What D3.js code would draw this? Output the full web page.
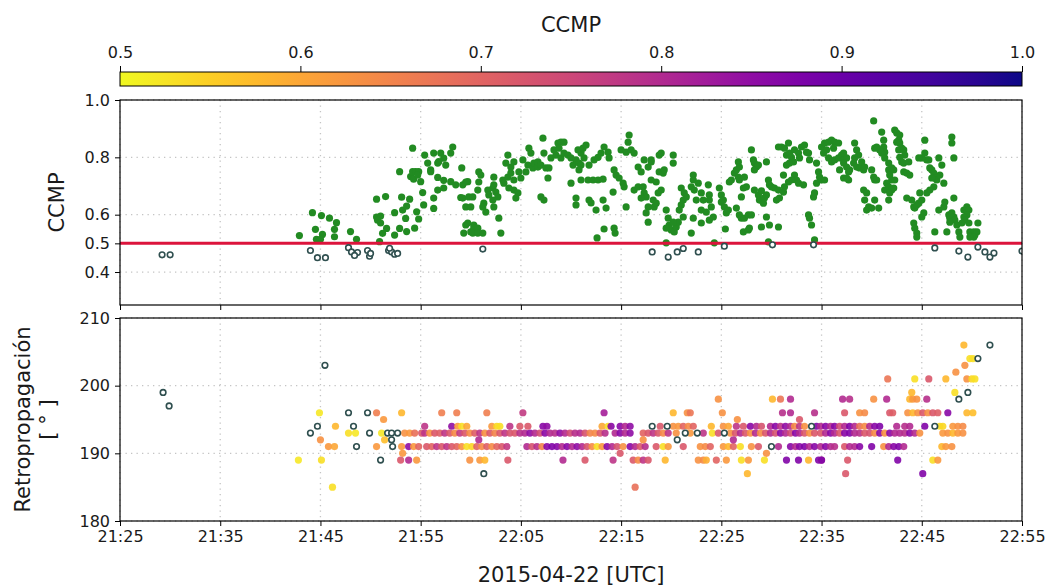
<!DOCTYPE html>
<html>
<head>
<meta charset="utf-8">
<script src="https://cdn.jsdelivr.net/npm/d3@7"></script>
<style>
  body { margin: 0; background: #fff; }
  svg { display: block; }
  text { font-family: "DejaVu Sans", sans-serif; fill: #1a1a1a; }
</style>
</head>
<body>
<svg id="chart" width="1048" height="586"></svg>
<script>
// Detection times are given in minutes after 21:00 UTC on 2015-04-22.

// Upper panel: cross-correlation maximum (CCMP) per detection [minute, ccmp]
const ccmpSeries = [
  [29.2,0.46],[30.0,0.46],
  [44.0,0.475],[44.7,0.45],[45.5,0.45],[47.8,0.485],[48.1,0.47],[48.7,0.468],[48.4,0.458],
  [49.7,0.475],[49.9,0.455],[50.0,0.465],[51.8,0.475],[52.1,0.47],[52.4,0.462],[52.7,0.465],[51.9,0.483],
  [61.2,0.48],[78.1,0.47],[79.7,0.452],[80.6,0.47],[81.2,0.482],[82.7,0.47],
  [85.3,0.49],[90.1,0.495],[94.2,0.495],
  [106.3,0.484],[108.7,0.473],[109.6,0.452],[110.6,0.487],[111.3,0.47],[111.8,0.452],[112.2,0.466],[115.0,0.473],
  [42.9,0.527],[44.2,0.607],[45.1,0.597],[45.9,0.588],[46.6,0.572],[44.5,0.549],[45.2,0.531],[44.6,0.514],
  [45.0,0.514],[46.4,0.549],[46.4,0.523],[48.0,0.541],[48.6,0.514],[50.6,0.654],[51.5,0.663],[50.6,0.592],
  [51.0,0.595],[50.7,0.581],[51.0,0.571],[51.6,0.552],[51.2,0.535],[50.9,0.506],[52.4,0.607],[52.4,0.529],
  [52.9,0.552],[53.1,0.661],[53.2,0.616],[53.5,0.587],[53.6,0.541],[53.9,0.654],[53.6,0.63],[52.9,0.75],
  [54.2,0.832],[54.0,0.733],[54.2,0.75],[54.5,0.75],[54.8,0.75],[54.3,0.724],[54.7,0.738],[55.0,0.715],
  [54.6,0.61],[54.8,0.585],[54.4,0.553],[55.2,0.677],[55.3,0.634],[55.4,0.808],
  [55.7,0.78],[56.3,0.815],[56.7,0.78],[57.0,0.815],[57.3,0.797],[58.0,0.815],[58.2,0.836],
  [56.0,0.756],[56.8,0.785],[57.5,0.773],[56.0,0.75],[56.7,0.73],[57.3,0.72],[58.0,0.715],[58.5,0.704],
  [59.2,0.704],[59.7,0.715],[56.3,0.658],[56.7,0.686],[57.3,0.693],[56.3,0.622],[59.0,0.66],[59.2,0.658],
  [59.5,0.627],[59.5,0.564],[59.3,0.536],
  [59.1,0.763],[59.5,0.714],[59.8,0.662],[60.0,0.627],[59.7,0.571],[60.0,0.54],[60.3,0.564],[60.3,0.553],
  [60.5,0.54],[60.7,0.553],[60.2,0.536],[60.7,0.536],[61.2,0.536],[60.8,0.749],[61.0,0.738],[60.8,0.714],
  [60.7,0.686],[60.2,0.662],[61.3,0.64],[61.5,0.609],[61.2,0.627],[61.7,0.686],[61.8,0.669],[62.2,0.693],
  [62.3,0.704],[62.5,0.679],[62.7,0.662],[62.2,0.651],[62.3,0.627],[62.8,0.588],[63.0,0.536],[62.3,0.731],
  [63.2,0.721],[63.3,0.71],[63.7,0.731],[64.0,0.745],[63.8,0.693],[64.3,0.721],[64.8,0.749],[65.0,0.728],
  [64.3,0.686],[64.7,0.676],[64.5,0.658],[63.7,0.808],[63.5,0.78],[64.0,0.766],[64.3,0.784],[65.2,0.791],
  [65.5,0.749],[65.7,0.773],[66.2,0.763],[65.8,0.832],[66.0,0.815],[66.3,0.78],[66.7,0.766],[66.7,0.784],
  [67.0,0.773],[67.2,0.867],[67.3,0.815],[67.5,0.763],[67.7,0.728],[67.8,0.763],[67.0,0.662],[67.3,0.651],
  [68.0,0.798],[68.3,0.826],[68.7,0.85],[69.0,0.853],[69.3,0.853],[68.8,0.832],[68.5,0.808],[69.0,0.798],
  [69.3,0.815],[69.7,0.808],[70.0,0.798],[70.2,0.773],[70.5,0.791],[70.8,0.78],[71.0,0.815],[70.7,0.826],
  [71.2,0.832],[71.5,0.843],[71.3,0.798],[71.0,0.773],[70.8,0.756],[70.0,0.71],[70.5,0.658],[70.5,0.634],
  [71.8,0.651],[72.0,0.641],[71.0,0.721],[71.7,0.721],[72.2,0.721],[72.7,0.721],[73.2,0.724],
  [71.8,0.773],[72.3,0.791],[72.7,0.80],[73.0,0.815],[73.3,0.836],[73.7,0.818],[73.8,0.798],
  [72.5,0.616],[73.2,0.651],[73.5,0.623],[72.6,0.519],[73.3,0.55],[74.3,0.553],[74.4,0.536],[74.2,0.679],
  [74.3,0.756],[74.5,0.738],[74.8,0.728],[75.2,0.71],[75.3,0.697],[75.0,0.826],[75.5,0.818],[75.7,0.853],
  [75.8,0.878],[76.0,0.826],[76.3,0.815],[76.7,0.766],[77.0,0.749],[77.3,0.791],[78.0,0.791],[77.7,0.766],
  [75.5,0.627],[76.3,0.686],[76.7,0.697],[77.2,0.697],[77.3,0.676],[77.5,0.662],[77.0,0.658],
  [78.2,0.651],[78.3,0.627],[77.7,0.627],[77.5,0.606],[77.7,0.574],[78.0,0.721],[78.5,0.714],[78.8,0.808],
  [78.0,0.784],[78.7,0.676],[78.5,0.64],[79.0,0.815],[78.8,0.749],[79.2,0.745],[79.3,0.756],[79.0,0.686],
  [79.5,0.616],[79.7,0.588],[79.8,0.564],[80.0,0.547],[79.5,0.553],[80.3,0.54],[80.5,0.557],[80.7,0.574],
  [80.2,0.574],[80.2,0.808],[80.2,0.78],
  [81.0,0.693],[81.2,0.651],[81.3,0.676],[81.5,0.662],[81.0,0.634],[81.2,0.592],[80.8,0.616],[82.0,0.697],
  [82.2,0.738],[82.2,0.721],[82.3,0.686],[82.5,0.651],[82.7,0.71],[83.0,0.676],[83.2,0.651],[83.0,0.616],
  [83.7,0.704],[83.8,0.669],[83.8,0.651],[84.0,0.627],[84.2,0.592],[83.8,0.581],[83.5,0.609],[83.0,0.571],
  [82.2,0.588],[82.0,0.536],[84.3,0.502],[79.5,0.502],
  [84.8,0.693],[85.0,0.669],[85.0,0.644],[85.3,0.627],[85.5,0.606],[85.7,0.616],[85.2,0.651],[85.4,0.55],
  [85.8,0.714],[86.0,0.721],[86.3,0.745],[86.5,0.756],[86.7,0.784],[86.8,0.766],[86.7,0.731],[86.8,0.721],
  [87.2,0.693],[87.3,0.731],[87.0,0.662],[87.5,0.697],[86.5,0.623],[86.8,0.599],[87.0,0.588],[87.3,0.588],
  [87.7,0.599],[88.0,0.599],[87.2,0.54],[87.7,0.547],[87.8,0.553],
  [88.0,0.826],[88.2,0.791],[88.3,0.78],[88.5,0.766],[88.3,0.756],[88.7,0.773],[89.5,0.784],
  [88.3,0.686],[88.7,0.669],[88.8,0.651],[89.2,0.64],[89.3,0.658],[89.5,0.669],[89.0,0.683],[89.7,0.721],
  [89.8,0.704],[90.0,0.697],[90.3,0.693],[90.7,0.686],[90.5,0.651],[90.8,0.658],[89.5,0.592],[89.0,0.557],
  [89.8,0.564],[90.7,0.557],[89.7,0.505],
  [90.7,0.836],[91.0,0.836],[91.3,0.832],[91.5,0.808],[91.7,0.85],[91.8,0.815],[92.0,0.80],[92.2,0.784],
  [91.8,0.78],[91.5,0.773],[92.3,0.826],[92.7,0.815],[92.8,0.798],[93.0,0.836],[93.3,0.843],[93.5,0.818],
  [93.7,0.815],[93.8,0.791],[92.3,0.738],[92.5,0.721],[92.7,0.71],[93.2,0.704],[92.0,0.721],[91.7,0.714],
  [91.2,0.738],[91.3,0.697],[91.2,0.679],
  [93.7,0.599],[93.8,0.588],[94.0,0.564],[94.3,0.512],[94.2,0.662],[94.3,0.676],[94.5,0.71],[94.7,0.749],
  [94.8,0.731],[94.5,0.78],[95.0,0.721],[95.3,0.721],
  [95.0,0.836],[95.3,0.85],[95.7,0.853],[96.0,0.86],[96.3,0.853],[96.7,0.85],[96.2,0.832],[95.5,0.826],
  [95.2,0.815],[95.7,0.798],[96.0,0.784],[96.3,0.791],[96.7,0.798],[97.0,0.808],[97.2,0.791],[97.3,0.798],
  [96.8,0.756],[97.2,0.728],[97.7,0.721],[97.8,0.756],
  [97.2,0.815],[97.5,0.798],[97.2,0.78],[97.5,0.766],[97.7,0.749],[97.5,0.728],
  [98.3,0.85],[98.5,0.826],[98.7,0.808],[98.3,0.798],[98.2,0.78],[98.5,0.766],[98.8,0.763],[99.0,0.784],
  [99.2,0.756],[99.3,0.766],[100.2,0.927],
  [100.0,0.756],[100.2,0.731],[100.3,0.721],[100.5,0.721],
  [99.2,0.686],[99.5,0.676],[99.3,0.651],[99.7,0.627],[99.5,0.616],[100.3,0.651],[100.7,0.623],[100.0,0.623],
  [101.0,0.888],[101.2,0.86],[101.2,0.836],[101.3,0.818],[101.0,0.815],[100.8,0.826],[100.3,0.832],[100.5,0.836],
  [101.3,0.798],[101.7,0.78],[101.7,0.756],[101.8,0.738],[102.0,0.721],[101.5,0.71],[101.3,0.686],[101.7,0.697],
  [101.8,0.676],[101.7,0.651],[102.0,0.686],[102.2,0.693],[102.3,0.721],[102.0,0.763],[102.2,0.756],
  [102.3,0.895],[102.5,0.885],[102.8,0.878],[102.7,0.86],[102.5,0.853],[102.8,0.85],[103.0,0.832],[102.7,0.826],
  [103.2,0.826],[103.3,0.808],[102.8,0.80],[103.0,0.784],[103.2,0.78],[103.7,0.784],[103.2,0.749],[103.5,0.745],
  [103.8,0.738],
  [103.5,0.658],[104.0,0.651],[104.2,0.627],[104.3,0.623],[104.5,0.634],[104.7,0.64],[105.0,0.651],[104.8,0.676],
  [105.0,0.592],[105.2,0.606],[104.2,0.571],[104.3,0.553],[104.5,0.536],[104.5,0.522],
  [105.3,0.86],[105.3,0.815],[105.5,0.791],[105.0,0.798],[104.7,0.798],[105.7,0.791],[105.8,0.763],[106.0,0.756],
  [106.2,0.745],[106.3,0.728],[106.5,0.721],[106.0,0.728],[106.7,0.798],[107.0,0.773],[106.8,0.738],[107.2,0.71],
  [106.2,0.697],[105.8,0.686],[105.5,0.676],
  [106.3,0.54],[106.7,0.616],[107.2,0.627],[107.3,0.644],[107.7,0.599],[107.8,0.588],[108.0,0.606],[108.2,0.592],
  [108.3,0.581],[108.5,0.564],[108.7,0.54],[108.8,0.522],[107.5,0.54],[107.8,0.574],[108.2,0.658],
  [108.0,0.871],[108.0,0.85],[108.2,0.798],
  [109.2,0.616],[109.5,0.627],[109.7,0.616],[109.5,0.599],[109.2,0.592],[109.3,0.581],[109.7,0.571],[109.0,0.571],
  [109.8,0.54],[110.0,0.529],[110.2,0.54],[110.3,0.529],[110.5,0.54],[110.6,0.571],[110.2,0.522],[109.8,0.522]
];

// Lower panel: back-propagation azimuth per detection [minute, degrees, ccmp]
const backSeries = [
  [29.3,199,0.46],[29.9,197,0.46],[45.45,203,0.45],[44.0,193,0.475],[44.7,194,0.45],[47.8,196,0.485],
  [49.7,196,0.475],[48.3,194,0.47],[48.6,191,0.468],[49.9,193,0.455],[51.0,189,0.47],[51.7,193,0.475],
  [52.1,193,0.47],[52.7,193,0.465],[52.1,192,0.483],[52.2,191,0.462],[61.3,187,0.48],
  [42.8,189,0.52],[44.9,196,0.52],[45.1,189,0.53],[46.2,185,0.53],[45.0,192,0.63],[46.5,194,0.58],
  [45.8,191,0.62],[46.4,191,0.6],[47.8,193,0.53],[48.5,193,0.52],[50.6,196,0.66],[53.1,196,0.58],
  [51.3,195,0.62],[51.1,193,0.52],[51.4,192,0.57],[50.6,191,0.62],[53.2,190,0.62],
  // 193 deg band
  [53.4,193,0.63],[53.9,193,0.62],[54.4,193,0.68],[55.1,193,0.72],[55.4,193,0.78],[55.9,193,0.63],
  [56.4,193,0.72],[56.9,193,0.71],[57.4,193,0.78],[57.9,193,0.72],[58.4,193,0.64],[58.9,193,0.77],
  [59.4,193,0.72],[59.9,193,0.64],[60.4,193,0.71],[60.9,193,0.78],[61.4,193,0.63],[61.9,193,0.72],
  [62.4,193,0.65],[62.9,193,0.72],[63.4,193,0.78],[63.9,193,0.73],[64.4,193,0.72],[64.9,193,0.79],
  [65.4,193,0.8],[65.9,193,0.85],[66.4,193,0.8],[66.9,193,0.74],[67.4,193,0.86],[67.9,193,0.8],
  [68.4,193,0.79],[68.9,193,0.85],[69.4,193,0.8],[69.9,193,0.74],[70.4,193,0.79],[70.9,193,0.8],
  [71.4,193,0.73],[71.9,193,0.65],[72.4,193,0.64],[72.9,193,0.72],[73.4,193,0.79],[74.4,193,0.8],
  [74.9,193,0.86],[75.4,193,0.8],[75.9,193,0.85],[77.2,193,0.7],[77.7,193,0.72],[78.2,193,0.78],
  [78.7,193,0.72],[79.2,193,0.64],[79.7,193,0.78],[80.5,193,0.63],[81.4,193,0.482],[81.9,193,0.62],
  [82.6,193,0.47],[83.2,193,0.78],[84.1,193,0.53],[84.7,193,0.72],[85.3,193,0.49],[85.9,193,0.63],
  [86.4,193,0.72],[86.9,193,0.8],[87.4,193,0.72],[87.9,193,0.63],[88.4,193,0.8],[88.9,193,0.64],
  [89.4,193,0.72],[89.9,193,0.8],[90.4,193,0.73],[90.9,193,0.86],[91.4,193,0.8],[91.9,193,0.74],
  [92.4,193,0.86],[92.8,193,0.8],[93.3,193,0.72],[93.8,193,0.63],[94.3,193,0.72],
  [94.9,193,0.72],[95.4,193,0.8],[95.9,193,0.86],[96.3,193,0.8],[96.8,193,0.72],[97.3,193,0.86],
  [97.8,193,0.87],[98.3,193,0.8],[98.8,193,0.79],[99.3,193,0.72],[99.8,193,0.73],[100.3,193,0.64],
  [100.8,193,0.86],[101.3,193,0.63],[101.8,193,0.86],[102.3,193,0.8],[102.8,193,0.8],[103.3,193,0.79],
  [103.8,193,0.86],[104.3,193,0.8],[104.8,193,0.63],[107.1,193,0.62],[107.6,193,0.63],[108.1,193,0.58],
  [108.6,193,0.62],[109.1,193,0.63],
  // 191 deg band
  [53.1,191,0.62],[53.8,191,0.85],[54.3,191,0.62],[54.8,191,0.7],[55.6,191,0.72],[56.1,191,0.7],
  [56.6,191,0.78],[57.1,191,0.72],[57.6,191,0.78],[58.1,191,0.72],[58.6,191,0.7],[59.1,191,0.63],
  [59.6,191,0.53],[60.1,191,0.54],[60.6,191,0.7],[61.1,191,0.64],[61.6,191,0.71],[62.1,191,0.64],
  [62.6,191,0.7],[63.1,191,0.72],[63.6,191,0.77],[65.6,191,0.8],[66.1,191,0.73],[66.6,191,0.79],
  [67.1,191,0.65],[67.6,191,0.86],[68.1,191,0.87],[68.6,191,0.86],[69.1,191,0.8],[69.6,191,0.86],
  [70.1,191,0.8],[70.6,191,0.85],[71.1,191,0.8],[71.6,191,0.73],[72.1,191,0.64],[72.6,191,0.53],
  [73.1,191,0.62],[73.6,191,0.86],[74.1,191,0.8],[74.6,191,0.73],[75.2,191,0.63],[75.9,191,0.86],
  [76.4,191,0.8],[76.9,191,0.72],[77.4,191,0.79],[78.5,191,0.72],[79.2,191,0.53],[79.7,191,0.62],
  [81.2,191,0.72],[82.9,191,0.63],[83.4,191,0.64],[83.9,191,0.7],[85.2,191,0.62],[85.7,191,0.58],
  [86.2,191,0.7],[86.9,191,0.53],[88.0,191,0.63],[88.7,191,0.72],[90.0,191,0.495],[90.7,191,0.8],
  [91.9,191,0.86],[92.4,191,0.8],[92.8,191,0.86],[93.3,191,0.87],[93.8,191,0.8],[94.3,191,0.86],
  [94.9,191,0.8],[95.4,191,0.86],[95.9,191,0.8],[96.3,191,0.79],[97.3,191,0.72],[97.8,191,0.8],
  [98.3,191,0.8],[98.8,191,0.86],[100.0,191,0.87],[101.2,191,0.63],[101.7,191,0.8],[102.2,191,0.86],
  [102.7,191,0.87],[103.2,191,0.8],[107.0,191,0.58],[107.4,191,0.62],[108.0,191,0.63],
  // 194 deg band
  [55.4,194,0.78],[58.1,194,0.85],[58.7,194,0.62],[59.1,194,0.53],[59.6,194,0.6],[62.1,194,0.62],
  [62.6,194,0.54],[62.9,194,0.53],[63.9,194,0.78],[64.9,194,0.72],[65.7,194,0.72],[67.2,194,0.86],
  [67.6,194,0.85],[73.1,194,0.6],[73.7,194,0.53],[74.0,194,0.86],[74.9,194,0.86],[75.4,194,0.8],
  [75.9,194,0.85],[78.1,194,0.47],[78.9,194,0.72],[79.6,194,0.452],[80.2,194,0.63],[80.7,194,0.62],
  [81.2,194,0.7],[81.7,194,0.64],[82.2,194,0.7],[84.0,194,0.58],[85.2,194,0.63],[85.7,194,0.6],
  [86.5,194,0.78],[87.2,194,0.72],[87.9,194,0.86],[88.5,194,0.8],[89.0,194,0.73],[89.9,194,0.8],
  [90.4,194,0.86],[90.9,194,0.78],[91.4,194,0.85],[91.9,194,0.8],[92.3,194,0.64],[92.8,194,0.78],
  [93.3,194,0.63],[94.0,194,0.495],[94.5,194,0.87],[94.9,194,0.8],[95.4,194,0.86],[95.9,194,0.8],
  [96.3,194,0.86],[96.8,194,0.74],[97.3,194,0.8],[97.8,194,0.87],[98.3,194,0.8],[98.8,194,0.68],
  [99.3,194,0.64],[99.8,194,0.8],[100.3,194,0.86],[100.8,194,0.87],[102.5,194,0.8],[103.3,194,0.79],
  [103.8,194,0.8],[105.3,194,0.87],[106.3,194,0.484],[106.8,194,0.53],[107.1,194,0.54],[108.1,194,0.62],
  [108.6,194,0.63],[109.1,194,0.64],
  // 189 deg band
  [53.0,189,0.72],[53.8,189,0.8],[54.6,189,0.62],[59.9,189,0.63],[60.9,189,0.62],[61.4,189,0.58],
  [63.7,189,0.72],[69.2,189,0.8],[71.4,189,0.72],[74.2,189,0.78],[76.2,189,0.72],[76.7,189,0.64],
  [77.2,189,0.78],[77.7,189,0.72],[79.4,189,0.58],[82.7,189,0.63],[83.2,189,0.64],[83.5,189,0.59],
  [84.5,189,0.7],[85.5,189,0.62],[87.0,189,0.53],[87.7,189,0.62],[89.3,189,0.53],[91.5,189,0.87],
  [92.7,189,0.87],[93.7,189,0.58],[94.7,189,0.87],[95.0,189,0.8],[97.6,189,0.72],[102.6,189,0.87],
  [106.1,189,0.53],[106.6,189,0.62],
  // scattered azimuths
  [57.1,196,0.66],[58.6,196,0.66],[61.6,196,0.66],[65.2,196,0.77],[73.3,196,0.82],[60.8,192,0.8],
  [80.2,196,0.58],[81.6,196,0.63],[81.9,196,0.67],[85.1,196,0.63],[91.1,196,0.79],[91.9,196,0.8],
  [94.3,196,0.79],[86.6,195,0.63],[92.8,195,0.72],[84.7,198,0.63],[90.1,198,0.58],[90.9,198,0.67],
  [91.9,198,0.8],[74.9,190,0.72],[89.5,190,0.63],[77.2,192,0.63],[80.6,192,0.47],[86.2,192,0.8],
  [87.6,187,0.58],[76.4,185,0.68],
  [97.3,196,0.72],[98.8,196,0.63],[99.3,196,0.64],[101.8,196,0.72],[102.1,196,0.71],[103.6,196,0.63],
  [104.1,196,0.58],[104.6,196,0.63],[105.1,196,0.72],[105.6,196,0.63],[106.1,196,0.72],[106.6,196,0.71],
  [107.6,196,0.86],[109.5,196,0.58],[110.1,196,0.57],
  [97.1,198,0.8],[97.8,198,0.79],[100.2,198,0.63],[101.5,198,0.8],[103.8,198,0.58],[104.1,198,0.62],
  [104.5,198,0.63],[105.5,198,0.79],[108.7,198,0.473],
  [104.0,199,0.58],[108.3,199,0.53],[109.6,199,0.452],
  [101.6,201,0.67],[104.3,201,0.53],[105.7,201,0.72],[107.4,201,0.58],[109.5,201,0.63],[110.0,201,0.54],
  [110.3,201,0.53],[108.4,202,0.63],[109.3,203,0.63],[109.8,204,0.53],[110.1,204,0.53],[110.6,204,0.487],
  [109.2,206,0.58],[111.8,206,0.452],[97.4,187,0.72],[105.1,187,0.87],[95.0,189,0.87]
];

// Axis ticks
const timeTickMinutes = [25, 35, 45, 55, 65, 75, 85, 95, 105, 115];
const ccmpTicks = [0.4, 0.5, 0.6, 0.8, 1.0];
const backTicks = [180, 190, 200, 210];
const colorbarTicks = [0.5, 0.6, 0.7, 0.8, 0.9, 1.0];
const ccmpThreshold = 0.5;

const day0 = new Date(2015, 3, 22, 21, 0, 0);
const toDate = m => new Date(day0.getTime() + m * 60000);

const svg = d3.select("#chart");
const L = 120, R = 1022;
const top1 = 100, bot1 = 305, top2 = 318, bot2 = 521;

const x = d3.scaleTime().domain([toDate(25), toDate(115)]).range([L, R]);
const yTop = d3.scaleLinear().domain([0.285, 1.0]).range([bot1, top1]);
const yBot = d3.scaleLinear().domain([180, 210]).range([bot2, top2]);
const color = d3.scaleSequential(d3.interpolatePlasma).domain([1.0, 0.5]).clamp(true);

const defs = svg.append("defs");
[["clipTop", top1, bot1], ["clipBot", top2, bot2]].forEach(([id, a, b]) => {
  defs.append("clipPath").attr("id", id)
    .append("rect").attr("x", L).attr("y", a).attr("width", R - L).attr("height", b - a);
});

// ---- colour bar ----
const cbY = 72, cbH = 14;
const cbScale = d3.scaleLinear().domain([0.5, 1.0]).range([L, R]);
const grad = defs.append("linearGradient").attr("id", "cbGrad")
  .attr("x1", "0%").attr("x2", "100%").attr("y1", "0%").attr("y2", "0%");
d3.range(0, 1.0001, 0.05).forEach(t => {
  grad.append("stop").attr("offset", (t * 100) + "%").attr("stop-color", color(0.5 + 0.5 * t));
});
svg.append("rect").attr("x", L).attr("y", cbY).attr("width", R - L).attr("height", cbH)
  .attr("fill", "url(#cbGrad)").attr("stroke", "#000").attr("stroke-width", 1);
const cbAxis = svg.append("g").attr("transform", `translate(0,${cbY})`)
  .call(d3.axisTop(cbScale).tickValues(colorbarTicks).tickFormat(d3.format(".1f")).tickSize(6).tickPadding(8));
cbAxis.select(".domain").remove();
svg.append("text").attr("x", (L + R) / 2).attr("y", 32).attr("text-anchor", "middle")
  .attr("font-size", 21).text("CCMP");

// ---- grids ----
function grid(yScale, yTicks, a, b) {
  const g = svg.append("g").attr("stroke", "#c4c4c4").attr("stroke-width", 1.3)
    .attr("stroke-dasharray", "1.3,4.2");
  timeTickMinutes.forEach(m => {
    g.append("line").attr("x1", x(toDate(m))).attr("x2", x(toDate(m))).attr("y1", a).attr("y2", b);
  });
  yTicks.forEach(v => {
    g.append("line").attr("x1", L).attr("x2", R).attr("y1", yScale(v)).attr("y2", yScale(v));
  });
}
grid(yTop, ccmpTicks, top1, bot1);
grid(yBot, backTicks, top2, bot2);

// ---- upper panel: CCMP ----
const gTop = svg.append("g").attr("clip-path", "url(#clipTop)");
gTop.selectAll("circle.hi").data(ccmpSeries.filter(d => d[1] >= ccmpThreshold)).join("circle")
  .attr("cx", d => x(toDate(d[0]))).attr("cy", d => yTop(d[1])).attr("r", 3.6)
  .attr("fill", "#228b22");
gTop.append("line").attr("x1", L).attr("x2", R)
  .attr("y1", yTop(ccmpThreshold)).attr("y2", yTop(ccmpThreshold))
  .attr("stroke", "#dc143c").attr("stroke-width", 3);
gTop.selectAll("circle.lo").data(ccmpSeries.filter(d => d[1] < ccmpThreshold)).join("circle")
  .attr("cx", d => x(toDate(d[0]))).attr("cy", d => yTop(d[1])).attr("r", 2.8)
  .attr("fill", "#fff").attr("stroke", "#2f4f4f").attr("stroke-width", 1.6);

// ---- lower panel: back-propagation azimuth ----
const gBot = svg.append("g").attr("clip-path", "url(#clipBot)");
gBot.selectAll("circle.hi").data(backSeries.filter(d => d[2] >= ccmpThreshold)).join("circle")
  .attr("cx", d => x(toDate(d[0]))).attr("cy", d => yBot(d[1])).attr("r", 3.6)
  .attr("fill", d => color(d[2])).attr("fill-opacity", 0.9);
gBot.selectAll("circle.lo").data(backSeries.filter(d => d[2] < ccmpThreshold)).join("circle")
  .attr("cx", d => x(toDate(d[0]))).attr("cy", d => yBot(d[1])).attr("r", 2.8)
  .attr("fill", "#fff").attr("stroke", "#2f4f4f").attr("stroke-width", 1.6);

// ---- frames and axes ----
function styleAxis(g) {
  g.selectAll(".domain").remove();
  g.selectAll("line").attr("stroke", "#000").attr("stroke-width", 1);
  g.selectAll("text").attr("font-size", 16).attr("fill", "#1a1a1a")
    .attr("font-family", "DejaVu Sans, sans-serif");
}
[[top1, bot1], [top2, bot2]].forEach(([a, b]) => {
  svg.append("rect").attr("x", L).attr("y", a).attr("width", R - L).attr("height", b - a)
    .attr("fill", "none").attr("stroke", "#000").attr("stroke-width", 1.2);
});
const timeTicks = timeTickMinutes.map(toDate);
svg.append("g").attr("transform", `translate(0,${bot1})`)
  .call(d3.axisBottom(x).tickValues(timeTicks).tickFormat("").tickSize(5)).call(styleAxis);
svg.append("g").attr("transform", `translate(0,${bot2})`)
  .call(d3.axisBottom(x).tickValues(timeTicks).tickFormat(d3.timeFormat("%H:%M")).tickSize(5).tickPadding(5))
  .call(styleAxis);
svg.append("g").attr("transform", `translate(${L},0)`)
  .call(d3.axisLeft(yTop).tickValues(ccmpTicks).tickFormat(d3.format(".1f")).tickSize(5).tickPadding(5))
  .call(styleAxis);
svg.append("g").attr("transform", `translate(${L},0)`)
  .call(d3.axisLeft(yBot).tickValues(backTicks).tickFormat(d3.format("d")).tickSize(5).tickPadding(5))
  .call(styleAxis);
styleAxis(cbAxis);

// ---- labels ----
svg.append("text").attr("transform", `translate(64,${(top1 + bot1) / 2}) rotate(-90)`)
  .attr("text-anchor", "middle").attr("font-size", 21).text("CCMP");
const yl = svg.append("text").attr("transform", `translate(30,${(top2 + bot2) / 2}) rotate(-90)`)
  .attr("text-anchor", "middle").attr("font-size", 21);
yl.append("tspan").attr("x", 0).attr("dy", 0).text("Retropropagación");
yl.append("tspan").attr("x", 0).attr("dy", 25).text("[ ° ]");
svg.append("text").attr("x", (L + R) / 2).attr("y", 582).attr("text-anchor", "middle")
  .attr("font-size", 21).text("2015-04-22 [UTC]");
</script>
</body>
</html>
